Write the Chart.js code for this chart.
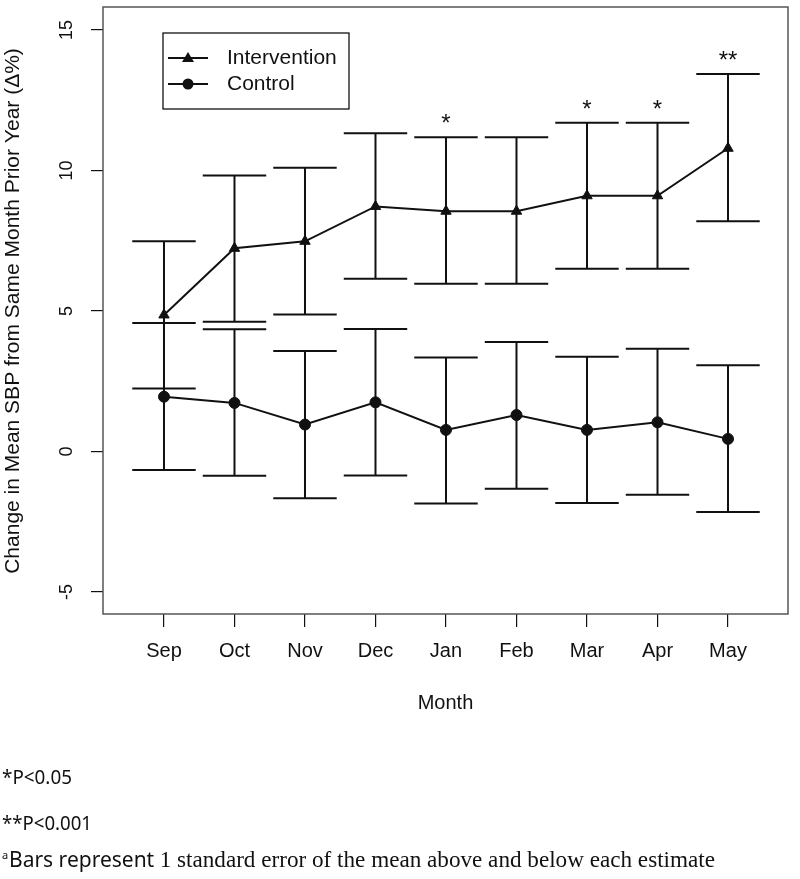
<!DOCTYPE html>
<html>
<head>
<meta charset="utf-8">
<script src="https://cdn.jsdelivr.net/npm/chart.js@4.4.1/dist/chart.umd.min.js"></script>
<style>
  html, body { margin: 0; padding: 0; background: #fff; }
  #wrap { width: 800px; height: 879px; }
</style>
</head>
<body>
<div id="wrap"><canvas id="c" width="800" height="879"></canvas></div>
<script>
// ---- data ----
const months = ["Sep", "Oct", "Nov", "Dec", "Jan", "Feb", "Mar", "Apr", "May"];
const interventionMean  = [4.86, 7.23, 7.48, 8.72, 8.55, 8.55, 9.10, 9.10, 10.79];
const interventionUpper = [7.48, 9.82, 10.10, 11.32, 11.18, 11.18, 11.70, 11.70, 13.43];
const interventionLower = [2.24, 4.62, 4.88, 6.15, 5.97, 5.97, 6.50, 6.50, 8.19];
const controlMean  = [1.95, 1.73, 0.96, 1.75, 0.77, 1.30, 0.77, 1.04, 0.45];
const controlUpper = [4.57, 4.35, 3.58, 4.36, 3.35, 3.90, 3.37, 3.66, 3.07];
const controlLower = [-0.66, -0.86, -1.66, -0.85, -1.85, -1.32, -1.83, -1.54, -2.15];
const significance = ["", "", "", "", "*", "", "*", "*", "**"];
const yTicks = [-5, 0, 5, 10, 15];
const seriesNames = ["Intervention", "Control"];
const yTitle = "Change in Mean SBP from Same Month Prior Year (\u0394%)";
const xTitle = "Month";
const footnotes = ["*P<0.05", "**P<0.001"];
const footnoteA = ["a", "Bars represent ", "1 standard error of the mean above and below each estimate"];

const SANS = "'Liberation Sans', Arial, Helvetica, sans-serif";
const NOTE = "'Noto Sans', 'Open Sans', sans-serif";
const INK = "#111";

const toPts = arr => arr.map((v, i) => ({ x: i, y: v }));

const overlay = {
  id: "overlay",
  afterDatasetsDraw(chart) {
    const ctx = chart.ctx;
    const xs = chart.scales.x, ys = chart.scales.y;
    const a = chart.chartArea;
    ctx.save();

    // error bars
    const cap = xs.getPixelForValue(0.45) - xs.getPixelForValue(0);
    const bars = (lo, hi) => {
      ctx.strokeStyle = INK; ctx.lineWidth = 2;
      lo.forEach((l, i) => {
        const x = xs.getPixelForValue(i);
        const yl = ys.getPixelForValue(l), yh = ys.getPixelForValue(hi[i]);
        ctx.beginPath();
        ctx.moveTo(x, yl); ctx.lineTo(x, yh);
        ctx.moveTo(x - cap, yl); ctx.lineTo(x + cap, yl);
        ctx.moveTo(x - cap, yh); ctx.lineTo(x + cap, yh);
        ctx.stroke();
      });
    };
    bars(interventionLower, interventionUpper);
    bars(controlLower, controlUpper);

    // significance stars
    ctx.fillStyle = INK;
    ctx.font = "24px " + SANS;
    ctx.textAlign = "center";
    ctx.textBaseline = "alphabetic";
    significance.forEach((s, i) => {
      if (!s) return;
      ctx.fillText(s, xs.getPixelForValue(i), ys.getPixelForValue(interventionUpper[i]) - 6);
    });

    // plot box
    ctx.strokeStyle = "#555"; ctx.lineWidth = 1.5;
    ctx.strokeRect(a.left, a.top, a.right - a.left, a.bottom - a.top);

    // legend
    const lx = a.left + 60, ly = a.top + 26;
    ctx.strokeStyle = INK; ctx.lineWidth = 1.3;
    ctx.strokeRect(lx, ly, 186, 76);
    const rows = [ly + 25, ly + 51];
    ctx.font = "21px " + SANS;
    ctx.textAlign = "left"; ctx.textBaseline = "middle";
    rows.forEach((ry, k) => {
      ctx.lineWidth = 2;
      ctx.beginPath(); ctx.moveTo(lx + 5, ry); ctx.lineTo(lx + 45, ry); ctx.stroke();
      ctx.beginPath();
      if (k === 0) {
        ctx.moveTo(lx + 25, ry - 6); ctx.lineTo(lx + 31, ry + 4); ctx.lineTo(lx + 19, ry + 4); ctx.closePath();
      } else {
        ctx.arc(lx + 25, ry, 5.5, 0, Math.PI * 2);
      }
      ctx.fill();
      ctx.fillText(seriesNames[k], lx + 64, ry);
    });

    // rotated y tick labels
    ctx.font = "18px " + SANS;
    ctx.textAlign = "center"; ctx.textBaseline = "middle";
    yTicks.forEach(t => {
      const y = ys.getPixelForValue(t);
      ctx.save(); ctx.translate(67, y); ctx.rotate(-Math.PI / 2);
      ctx.fillText(String(t), 0, 0); ctx.restore();
    });

    // y title
    ctx.save();
    ctx.font = "21px " + SANS;
    ctx.translate(13, 311); ctx.rotate(-Math.PI / 2);
    ctx.fillText(yTitle, 0, 0, 530);
    ctx.restore();

    // x title
    ctx.font = "20px " + SANS;
    ctx.fillText(xTitle, (a.left + a.right) / 2, 703);

    // footnotes
    ctx.textAlign = "left"; ctx.textBaseline = "alphabetic";
    ctx.font = "20px " + NOTE;
    ctx.fillText(footnotes[0], 2, 784, 70);
    ctx.fillText(footnotes[1], 2, 830, 90);
    ctx.font = "11px " + NOTE;
    ctx.fillText(footnoteA[0], 2, 859);
    ctx.font = "21px " + NOTE;
    const sx = 9;
    const sw = Math.min(ctx.measureText(footnoteA[1]).width, 160);
    ctx.fillText(footnoteA[1], sx, 867, 160);
    ctx.font = "23.5px 'Liberation Serif', 'DejaVu Serif', serif";
    const start = sx + sw;
    ctx.fillText(footnoteA[2], start, 867, 715 - start);

    ctx.restore();
  }
};

new Chart(document.getElementById("c"), {
  type: "line",
  data: {
    labels: months,
    datasets: [
      {
        label: seriesNames[0],
        data: toPts(interventionMean),
        borderColor: INK, backgroundColor: INK,
        borderWidth: 2, pointStyle: "triangle", pointRadius: 6,
        pointBorderWidth: 1, tension: 0
      },
      {
        label: seriesNames[1],
        data: toPts(controlMean),
        borderColor: INK, backgroundColor: INK,
        borderWidth: 2, pointStyle: "circle", pointRadius: 5.5,
        pointBorderWidth: 1, tension: 0
      }
    ]
  },
  options: {
    responsive: false,
    animation: false,
    devicePixelRatio: 1,
    layout: { padding: { left: 0, top: 5, right: 12, bottom: 0 } },
    plugins: { legend: { display: false }, tooltip: { enabled: false } },
    scales: {
      x: {
        type: "linear",
        min: -0.865, max: 8.851,
        afterBuildTicks: s => { s.ticks = months.map((_, i) => ({ value: i })); },
        afterFit: s => { s.height = 265; },
        border: { display: false },
        grid: { drawOnChartArea: false, drawTicks: true, tickLength: 13, color: INK, lineWidth: 1.2 },
        ticks: {
          callback: v => months[v],
          font: { size: 20, family: SANS },
          color: INK, padding: 12, maxRotation: 0, minRotation: 0, autoSkip: false
        }
      },
      y: {
        type: "linear",
        min: -5.78, max: 15.816,
        afterBuildTicks: s => { s.ticks = yTicks.map(v => ({ value: v })); },
        afterFit: s => { s.width = 103; },
        border: { display: false },
        grid: { drawOnChartArea: false, drawTicks: true, tickLength: 12, color: INK, lineWidth: 1.2 },
        ticks: { display: false }
      }
    }
  },
  plugins: [overlay]
});
</script>
</body>
</html>
